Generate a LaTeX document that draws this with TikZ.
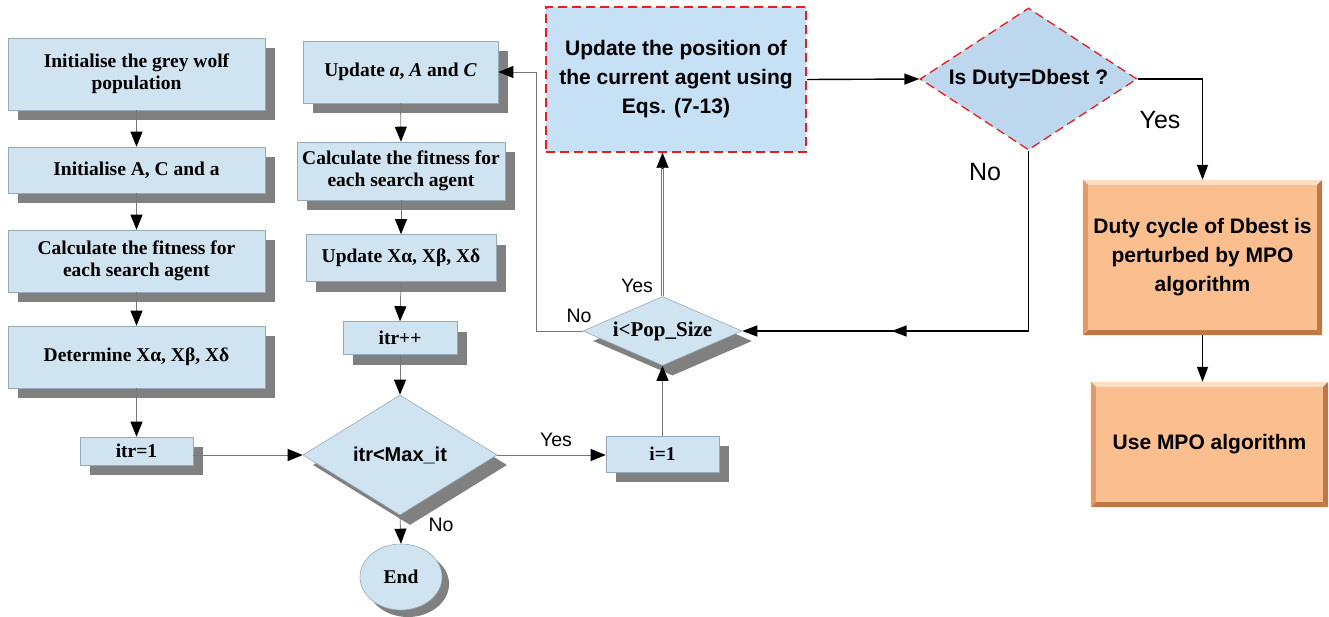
\documentclass[tikz,border=0pt]{standalone}
\usepackage{fontspec}
\setmainfont{Liberation Serif}
\newfontfamily\arialf{Liberation Sans}
\usetikzlibrary{shapes.geometric,shadows,arrows.meta,calc,decorations.markings}
\definecolor{boxblue}{RGB}{207,227,240}
\definecolor{boxedge}{RGB}{150,170,185}
\definecolor{shadowgray}{RGB}{128,128,128}
\definecolor{linegray}{RGB}{120,120,120}
\definecolor{redbox}{RGB}{198,224,246}
\definecolor{dutyblue}{RGB}{189,215,238}
\definecolor{dashred}{RGB}{232,30,30}
\definecolor{orangefill}{RGB}{250,190,143}
\definecolor{bevlight}{RGB}{253,222,195}
\definecolor{bevdark}{RGB}{190,120,70}
\definecolor{bevmid}{RGB}{225,155,105}
\newcommand\bevelbox[1]{%
  \fill[bevlight] (#1.north west) -- (#1.north east) -- ($(#1.north east)+(-5,5)$) -- ($(#1.north west)+(5,5)$) -- cycle;
  \fill[bevdark] (#1.south west) -- (#1.south east) -- ($(#1.south east)+(-5,-5)$) -- ($(#1.south west)+(5,-5)$) -- cycle;
  \fill[bevdark] (#1.north east) -- (#1.south east) -- ($(#1.south east)+(-5,-5)$) -- ($(#1.north east)+(-5,5)$) -- cycle;
  \fill[bevmid] (#1.north west) -- (#1.south west) -- ($(#1.south west)+(5,-5)$) -- ($(#1.north west)+(5,5)$) -- cycle;
}
\begin{document}
\begin{tikzpicture}[x=1pt,y=-1pt,
  shd/.style={drop shadow={shadow xshift=10pt,shadow yshift=-10pt,fill=shadowgray,opacity=1}},
  lbox/.style={rectangle,draw=boxedge,line width=0.6pt,fill=boxblue,align=center,inner sep=2pt,
     font=\fontsize{19.5}{22}\selectfont\bfseries,shd},
  ldia/.style={diamond,draw=boxedge,line width=0.6pt,fill=boxblue,inner sep=0pt,align=center,shd},
  lar/.style={draw=linegray,line width=0.8pt,-{Triangle[length=15pt,width=12pt,color=black]}},
  rar/.style={draw=black,line width=1.4pt,-{Triangle[length=15pt,width=11pt]}},
  lab/.style={font=\arialf\fontsize{19.5}{21}\selectfont},
  blab/.style={font=\arialf\fontsize{25}{27}\selectfont},
  rtext/.style={font=\arialf\bfseries\fontsize{21}{29}\selectfont,align=center},
  obox/.style={rectangle,fill=orangefill,inner sep=0pt}]
\useasboundingbox (0,0) rectangle (1329,616);

% left column
\node[lbox,minimum width=257pt,minimum height=72pt] (b1) at (136.5,74) {Initialise the grey wolf\\population};
\node[lbox,minimum width=257pt,minimum height=46pt] (b2) at (136.5,170) {Initialise A, C and a};
\node[lbox,minimum width=257pt,minimum height=62pt] (b3) at (136.5,261) {Calculate the fitness for\\each search agent};
\node[lbox,minimum width=257pt,minimum height=62pt] (b4) at (136.5,357) {Determine Xα, Xβ, Xδ};
\node[lbox,minimum width=113pt,minimum height=28pt] (itr1) at (136.5,451) {itr=1};

% middle column
\node[lbox,minimum width=195pt,minimum height=62pt] (m1) at (400.5,72) {Update \textit{a}, \textit{A} and \textit{C}};
\node[lbox,minimum width=208pt,minimum height=58pt] (m2) at (401,171) {Calculate the fitness for\\each search agent};
\node[lbox,minimum width=190pt,minimum height=47pt] (m3) at (401,258) {Update Xα, Xβ, Xδ};
\node[lbox,minimum width=114pt,minimum height=33pt] (m4) at (400,338) {itr++};
\node[ldia,shape aspect=1.62,minimum width=194pt,minimum height=120pt,font=\arialf\bfseries\fontsize{20}{22}\selectfont] (d1) at (400,455) {itr<Max\_it};
\node[ellipse,draw=boxedge,line width=0.6pt,fill=boxblue,minimum width=82pt,minimum height=66pt,inner sep=0pt,
  drop shadow={shadow xshift=7pt,shadow yshift=-7pt,fill=shadowgray,opacity=1},
  font=\fontsize{19.5}{22}\selectfont\bfseries] (end) at (401,577) {End};

% i=1 and pop diamond
\node[lbox,minimum width=113pt,minimum height=36pt] (i1) at (662.5,454) {i=1};
\node[ldia,shape aspect=2.3,minimum width=159pt,minimum height=69pt,font=\fontsize{21}{23}\selectfont\bfseries] (pop) at (662.5,331) {i<Pop\_Size};

% red dashed box and diamond
\node[rectangle,draw=dashred,dash pattern=on 9pt off 5pt,line width=1.5pt,fill=redbox,
  minimum width=260pt,minimum height=145pt,rtext] (upd) at (676,79.5)
  {Update the position of\\the current agent using\\Eqs. (7-13)};
\node[diamond,shape aspect=1.53,draw=dashred,dash pattern=on 9pt off 5pt,line width=1.3pt,fill=dutyblue,
  minimum width=217pt,minimum height=142pt,inner sep=0pt,rtext] (duty) at (1028.5,79) {Is Duty=Dbest ?};

% orange boxes
\node[obox,minimum width=239pt,minimum height=155pt] (o1) at (1202.5,257.5) {};
\bevelbox{o1}
\node[rtext] (o1t) at (o1.center) {Duty cycle of Dbest is\\perturbed by MPO\\algorithm};
\node[obox,minimum width=237pt,minimum height=125pt] (o2) at (1209.5,444.5) {};
\bevelbox{o2}
\node[rtext] (o2t) at (o2.center) {Use MPO algorithm};

% left connectors
\draw[lar] (b1.south) -- (b2.north);
\draw[lar] (b2.south) -- (b3.north);
\draw[lar] (b3.south) -- (b4.north);
\draw[lar] (b4.south) -- (itr1.north);
\draw[lar] (itr1.east |- d1.west) -- (d1.west);
\draw[lar] (m1.south) -- (m2.north);
\draw[lar] (m2.south) -- (m3.north);
\draw[lar] (m3.south) -- (m4.north);
\draw[lar] (m4.south) -- (d1.north);
\draw[lar] (d1.south) -- (end.north);
\draw[lar] (d1.east) -- (i1.west |- d1.east);
\draw[lar] (i1.north) -- (pop.south);
\coordinate (nocorner) at (536,331);
\draw[lar] (pop.west) -- (nocorner) |- (m1.east);
\coordinate (updin) at (pop.north |- upd.south);
\draw[draw=linegray,line width=0.6pt,double,double distance=1.6pt] (pop.north) -- ($(updin)+(0,14)$);
\draw[line width=0.1pt,-{Triangle[length=15pt,width=12pt,color=black]}] ($(updin)+(0,15)$) -- (updin);

% labels
\node[lab] at (556,440) {Yes};
\node[lab] at (441,525) {No};
\node[lab] at (637,286) {Yes};
\node[lab] at (579,316) {No};
\node[blab] at (1160,120) {Yes};
\node[blab] at (985,172) {No};

% right connectors
\draw[rar] (upd.east) -- (duty.west);
\coordinate (yescorner) at (1202.5,79);
\draw[draw=black,line width=1.3pt,-{Triangle[length=15pt,width=11pt]}] (duty.east) -- (yescorner) -- (o1.north);
\draw[draw=black,line width=1.3pt,-{Triangle[length=15pt,width=11pt]},
  decoration={markings,mark=at position 0.68 with {\arrow{Triangle[length=15pt,width=11pt]}}},postaction={decorate}]
  (duty.south) |- (pop.east);
\draw[draw=black,line width=1.3pt,-{Triangle[length=15pt,width=11pt]}] (o1.south) -- (o1.south |- o2.north);
\end{tikzpicture}
\end{document}
